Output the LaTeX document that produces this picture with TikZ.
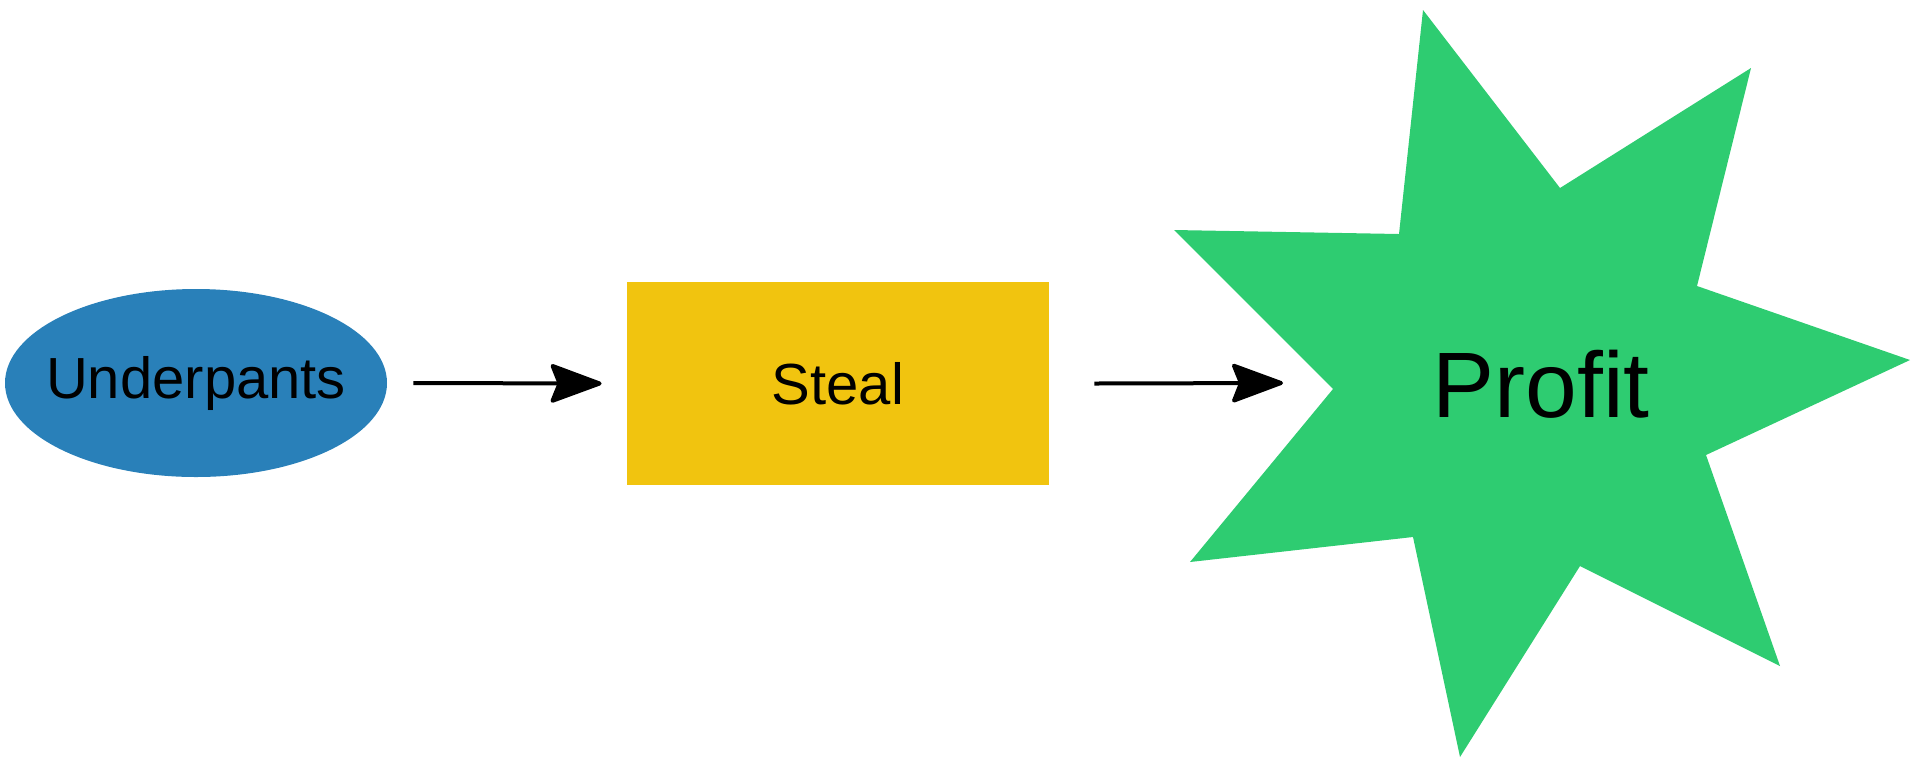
\documentclass[tikz,border=0pt]{standalone}
\usepackage{fontspec}
\setmainfont{Liberation Sans}
\usetikzlibrary{shapes.geometric,arrows.meta}
\definecolor{cblue}{RGB}{41,128,185}
\definecolor{cyellow}{RGB}{241,196,15}
\definecolor{cgreen}{RGB}{46,204,113}
\begin{document}
\begin{tikzpicture}[x=0.5pt,y=-0.5pt,
  lbl/.style={font=\fontsize{29}{34}\selectfont, text=black, inner sep=0pt},
  biglbl/.style={font=\fontsize{46.5}{56}\selectfont, text=black, inner sep=0pt},
  conn/.style={line width=2pt, -{Stealth[length=28pt,width=20.5pt,inset=4pt,round]}},
]
\useasboundingbox (0,0) rectangle (1920,767);
% Underpants ellipse
\node[ellipse, fill=cblue, minimum width=191pt, minimum height=94pt, inner sep=0pt] (under) at (196,383) {};
\node[lbl] (underlbl) at (under.center) {Underpants};
% Steal rectangle
\node[rectangle, fill=cyellow, minimum width=211pt, minimum height=101.5pt, inner sep=0pt, lbl] (steal) at (838,383.5) {Steal};
% Profit star
\fill[cgreen] (1423,10) -- (1560,188) -- (1751,68) -- (1697,286) -- (1910,360)
  -- (1706,455) -- (1780,666) -- (1580,566) -- (1460,757) -- (1413,537)
  -- (1190,562) -- (1333,389) -- (1174,230) -- (1399,234) -- cycle;
\node[biglbl] (profit) at (1541,384) {Profit};
\coordinate (pin) at (1283,383);
% connectors
\draw[conn] ([xshift=13pt]under.east) -- ([xshift=-12.5pt]steal.west);
\draw[conn] ([xshift=22.5pt]steal.east) -- (pin);
\end{tikzpicture}
\end{document}
